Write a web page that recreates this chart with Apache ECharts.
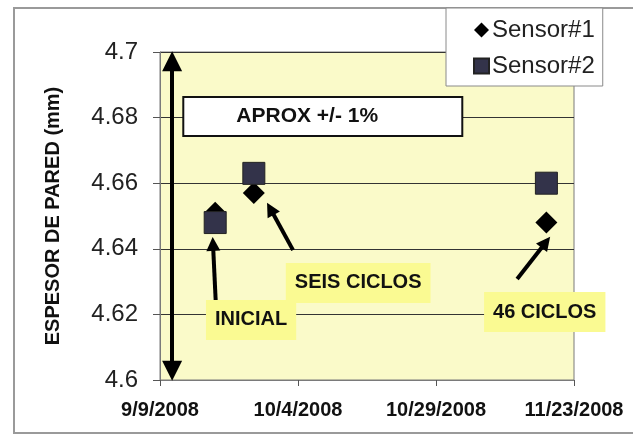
<!DOCTYPE html>
<html>
<head>
<meta charset="utf-8">
<script src="https://cdn.jsdelivr.net/npm/echarts@6/dist/echarts.min.js"></script>
<style>
  html, body { margin: 0; padding: 0; background: #fff; }
  #main { width: 633px; height: 437px; }
</style>
</head>
<body>
<div id="main"></div>
<script>
// datos
const startDate = '2008-09-09';
const dates = ['2008-09-19', '2008-09-26', '2008-11-18'];
const sensor1 = [4.651, 4.657, 4.648];
const sensor2 = [4.648, 4.663, 4.660];
const xTickLabels = ['9/9/2008', '10/4/2008', '10/29/2008', '11/23/2008'];
const yTickLabels = ['4.6', '4.62', '4.64', '4.66', '4.68', '4.7'];

// dias desde el inicio
function dayOf(d) {
  let a = d.split('-').map(Number);
  let s = startDate.split('-').map(Number);
  return (Date.UTC(a[0], a[1] - 1, a[2]) - Date.UTC(s[0], s[1] - 1, s[2])) / 86400000;
}

const FONT = "'Liberation Sans', Arial, sans-serif";
let myChart = echarts.init(document.getElementById('main'));

let yellowLabel = {
  show: true,
  position: 'inside',
  color: '#111',
  fontFamily: FONT,
  fontWeight: 'bold',
  fontSize: 20,
  backgroundColor: '#fafa92',
  padding: [10, 9]
};

// flechas de anotacion (en coordenadas de datos)
const arrows = [
  [[10.1, 4.6238], [9.6, 4.6415]],
  [[24.1, 4.6396], [20.0, 4.6522]],
  [[64.7, 4.6308], [69.9, 4.6420]]
];

let option = {
  animation: false,
  backgroundColor: '#fff',
  graphic: [
    {
      type: 'polyline',
      shape: { points: [[640, 8], [14, 8], [14, 433], [640, 433]] },
      style: { stroke: '#9a9a9a', lineWidth: 2, fill: null },
      z: -1
    }
  ],
  grid: {
    left: 160,
    right: 59,
    top: 52,
    bottom: 57,
    show: true,
    backgroundColor: '#fafac9',
    borderColor: '#7a7a7a',
    borderWidth: 1
  },
  legend: {
    orient: 'vertical',
    left: 446,
    top: 8,
    width: 176,
    padding: [10, 8, 8, 27],
    itemGap: 12,
    itemWidth: 15,
    itemHeight: 15,
    backgroundColor: '#fff',
    borderColor: '#8a8a8a',
    borderWidth: 1,
    textStyle: { fontFamily: FONT, fontSize: 24, color: '#222', padding: [0, 0, 0, -2] },
    data: [
      { name: 'Sensor#1', icon: 'diamond', itemStyle: { color: '#000', opacity: 1 } },
      { name: 'Sensor#2', icon: 'rect', itemStyle: { color: '#33334a', opacity: 1 } }
    ]
  },
  xAxis: {
    type: 'value',
    min: 0,
    max: 75,
    interval: 25,
    axisLine: { show: true, lineStyle: { color: '#7a7a7a' } },
    axisTick: { show: true, length: 6, lineStyle: { color: '#555' } },
    splitLine: { show: false },
    axisLabel: {
      margin: 20,
      fontFamily: FONT,
      fontWeight: 'bold',
      fontSize: 20,
      color: '#111',
      formatter: function(v) {
        return xTickLabels[Math.round(v / 25)];
      }
    }
  },
  yAxis: {
    type: 'value',
    min: 4.6,
    max: 4.7,
    interval: 0.02,
    name: 'ESPESOR DE PARED (mm)',
    nameLocation: 'middle',
    nameGap: 97,
    nameTextStyle: { fontFamily: FONT, fontWeight: 'bold', fontSize: 20, color: '#111' },
    axisLine: { show: true, lineStyle: { color: '#7a7a7a' } },
    axisTick: { show: true, inside: false, length: 7, lineStyle: { color: '#555' } },
    splitLine: { show: true, lineStyle: { color: '#333', width: 1 } },
    axisLabel: {
      margin: 22,
      fontFamily: FONT,
      fontSize: 24,
      color: '#222',
      formatter: function(v) {
        return yTickLabels[Math.round((v - 4.6) / 0.02)];
      }
    }
  },
  series: [
    {
      name: 'Sensor#1',
      type: 'scatter',
      symbol: 'diamond',
      symbolSize: 22,
      itemStyle: { color: '#000', opacity: 1 },
      data: dates.map((d, i) => [dayOf(d), sensor1[i]]),
      z: 3
    },
    {
      name: 'Sensor#2',
      type: 'scatter',
      symbol: 'rect',
      symbolSize: 22,
      itemStyle: { color: '#33334a', borderColor: '#222', borderWidth: 1, opacity: 1 },
      data: dates.map((d, i) => [dayOf(d), sensor2[i]]),
      z: 4
    },
    {
      name: 'notas',
      type: 'scatter',
      data: [],
      z: 5,
      markLine: {
        silent: true,
        animation: false,
        label: { show: false },
        data: [
          [
            { coord: [2.2, 4.6028], symbol: 'triangle', symbolSize: 20 },
            { coord: [2.2, 4.6972], symbol: 'triangle', symbolSize: 20 }
          ]
        ].concat(arrows.map(a => [
          { coord: a[0], symbol: 'none' },
          { coord: a[1], symbol: 'triangle', symbolSize: 14 }
        ])),
        lineStyle: { color: '#000', width: 4, type: 'solid' }
      },
      markPoint: {
        silent: true,
        animation: false,
        symbol: 'rect',
        symbolSize: 0,
        data: [
          {
            coord: [4.4, 4.6803],
            label: {
              show: true,
              position: 'inside',
              formatter: 'APROX +/- 1%',
              fontFamily: FONT,
              fontWeight: 'bold',
              fontSize: 21,
              color: '#111',
              backgroundColor: '#fff',
              borderColor: '#111',
              borderWidth: 2,
              width: 225,
              height: 37,
              lineHeight: 37,
              align: 'left',
              verticalAlign: 'middle',
              padding: [0, 0, 0, 52]
            }
          },
          { coord: [16.5, 4.6183], label: Object.assign({}, yellowLabel, { formatter: 'INICIAL' }) },
          { coord: [35.9, 4.6296], label: Object.assign({}, yellowLabel, { formatter: 'SEIS CICLOS' }) },
          { coord: [69.7, 4.6207], label: Object.assign({}, yellowLabel, { formatter: '46 CICLOS' }) }
        ]
      }
    }
  ]
};

myChart.setOption(option);
</script>
</body>
</html>
